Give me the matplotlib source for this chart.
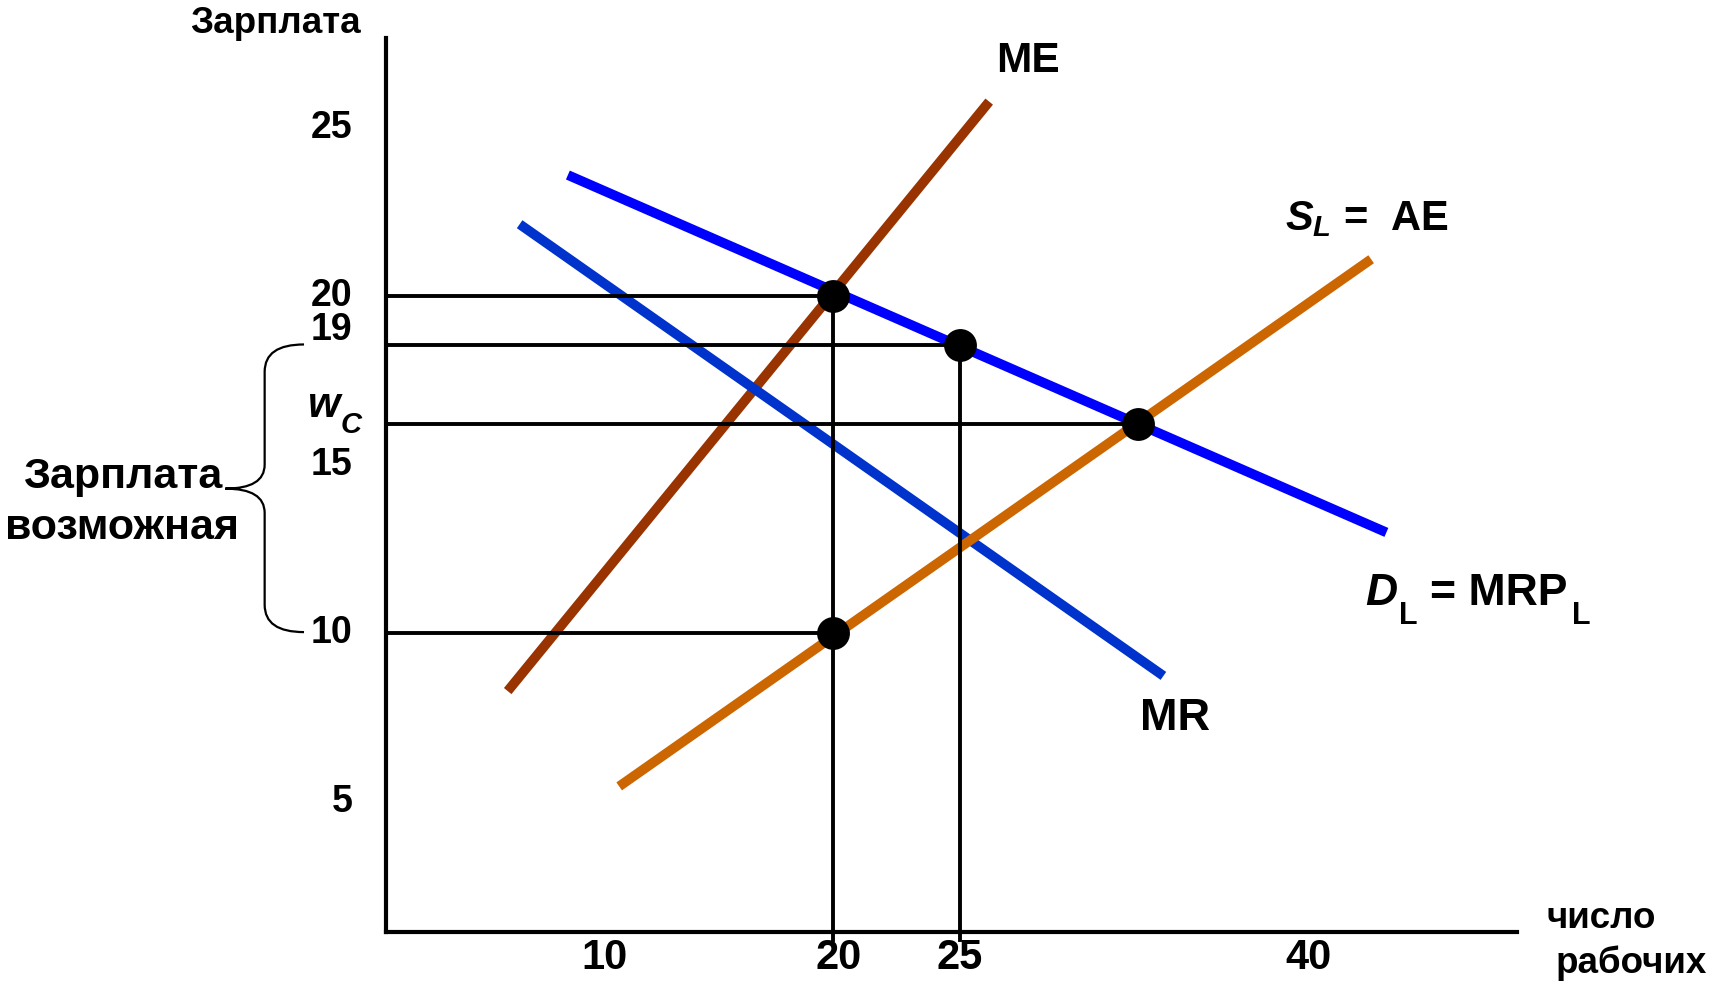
import matplotlib
matplotlib.use('Agg')
import matplotlib.pyplot as plt
from matplotlib.path import Path
from matplotlib.patches import PathPatch

plt.rcParams['font.family'] = ['Liberation Sans', 'DejaVu Sans']
plt.rcParams['font.weight'] = 'bold'
plt.rcParams['mathtext.fontset'] = 'custom'
plt.rcParams['mathtext.it'] = 'Liberation Sans:bold:italic'
plt.rcParams['mathtext.rm'] = 'Liberation Sans:bold'
plt.rcParams['mathtext.bf'] = 'Liberation Sans:bold'

# curves (x = число рабочих, y = зарплата)
dl_x = [9.57, 41.8]
dl_y = [23.6, 12.99]
mr_x = [7.67, 33.02]
mr_y = [22.14, 8.73]
me_x = [7.2, 26.16]
me_y = [8.28, 25.78]
sl_x = [11.59, 41.2]
sl_y = [5.45, 21.1]

# marked points
pts_x = [20, 25, 32, 20]
pts_y = [20, 18.55, 16.2, 10]

# axis labels
ytick_vals = [25, 20, 19, 15, 10, 5]
xtick_labels = ['10', '20', '25', '40']
xtick_pos = [11.0, 20.25, 25.0, 38.75]

xmin, xmax = 2.41, 46.94
ymin, ymax = 1.14, 27.66

fig = plt.figure(figsize=(17.15, 9.84), dpi=100)
ax = fig.add_axes([0.2251, 0.0533, 0.6594, 0.9078])
ax.set_xlim(xmin, xmax)
ax.set_ylim(ymin, ymax)
for s in ['top', 'right']:
    ax.spines[s].set_visible(False)
for s in ['left', 'bottom']:
    ax.spines[s].set_linewidth(3)
    ax.spines[s].set_capstyle('projecting')
ax.set_xticks([])
ax.set_yticks([])

ax.plot(me_x, me_y, color='#993300', lw=7, solid_capstyle='butt', zorder=2)
ax.plot(mr_x, mr_y, color='#0033CC', lw=7, solid_capstyle='butt', zorder=2)
ax.plot(sl_x, sl_y, color='#CC6600', lw=7, solid_capstyle='butt', zorder=2)
ax.plot(dl_x, dl_y, color='#0000FF', lw=7, solid_capstyle='butt', zorder=2)

# guide lines
for px, py in zip(pts_x, pts_y):
    ax.plot([xmin, px], [py, py], color='black', lw=2.8, zorder=3)
for px, py in zip(pts_x[:2], pts_y[:2]):
    ax.plot([px, px], [py, ymin - 0.24], color='black', lw=2.8, zorder=3,
            clip_on=False)

ax.scatter(pts_x, pts_y, s=560, color='black', zorder=5, linewidths=0)

# y labels
for v in ytick_vals:
    ax.text(1.08, v, str(v), ha='right', va='center', fontsize=27,
            fontweight='bold', clip_on=False)
ax.text(-0.65, 16.43, 'w', ha='left', va='baseline', fontsize=30,
        fontweight='bold', fontstyle='italic', clip_on=False)
ax.text(0.63, 15.94, 'C', ha='left', va='baseline', fontsize=21,
        fontweight='bold', fontstyle='italic', clip_on=False)

# x labels
for p, lab in zip(xtick_pos, xtick_labels):
    ax.text(p, 0.35, lab, ha='center', va='center', fontsize=30,
            fontweight='bold', clip_on=False)

ax.text(-1.94, 28.1, 'Зарплата', ha='center', va='center', fontsize=26.5,
        fontweight='bold', clip_on=False)
ax.text(48.1, 1.53, 'число', ha='left', va='center', fontsize=26.5,
        fontweight='bold', clip_on=False)
ax.text(48.45, 0.2, 'рабочих', ha='left', va='center', fontsize=26.5,
        fontweight='bold', clip_on=False)

# curve labels
ax.text(27.67, 27.0, 'ME', ha='center', va='center', fontsize=30.5, fontweight='bold')
ax.text(33.49, 7.47, 'MR', ha='center', va='center', fontsize=32.5, fontweight='bold')
ax.text(37.8, 22.3, r'$S_L$ =  AE', ha='left', va='center', fontsize=30,
        fontweight='bold', clip_on=False)
ax.text(40.95, 10.84, 'D', ha='left', va='baseline', fontsize=32,
        fontweight='bold', fontstyle='italic', clip_on=False)
ax.text(42.3, 10.28, 'L', ha='left', va='baseline', fontsize=22,
        fontweight='bold', clip_on=False)
ax.text(43.5, 10.84, '= MRP', ha='left', va='baseline', fontsize=32,
        fontweight='bold', clip_on=False)
ax.text(49.1, 10.28, 'L', ha='left', va='baseline', fontsize=22,
        fontweight='bold', clip_on=False)

# brace and its label
verts = [(-0.82, 18.57), (-2.37, 18.57), (-2.37, 17.76),
         (-2.37, 15.0),
         (-2.37, 14.29), (-3.92, 14.29),
         (-2.37, 14.29), (-2.37, 13.57),
         (-2.37, 10.84),
         (-2.37, 10.03), (-0.82, 10.03)]
codes = [Path.MOVETO, Path.CURVE3, Path.CURVE3,
         Path.LINETO,
         Path.CURVE3, Path.CURVE3,
         Path.CURVE3, Path.CURVE3,
         Path.LINETO,
         Path.CURVE3, Path.CURVE3]
brace = PathPatch(Path(verts, codes), fill=False, lw=1.6, color='black',
                  clip_on=False)
ax.add_patch(brace)

ax.text(-7.97, 14.64, 'Зарплата', ha='center', va='center', fontsize=31,
        fontweight='bold', clip_on=False)
ax.text(-7.97, 13.12, 'возможная', ha='center', va='center', fontsize=31,
        fontweight='bold', clip_on=False)

fig.savefig('out.png', dpi=100)
